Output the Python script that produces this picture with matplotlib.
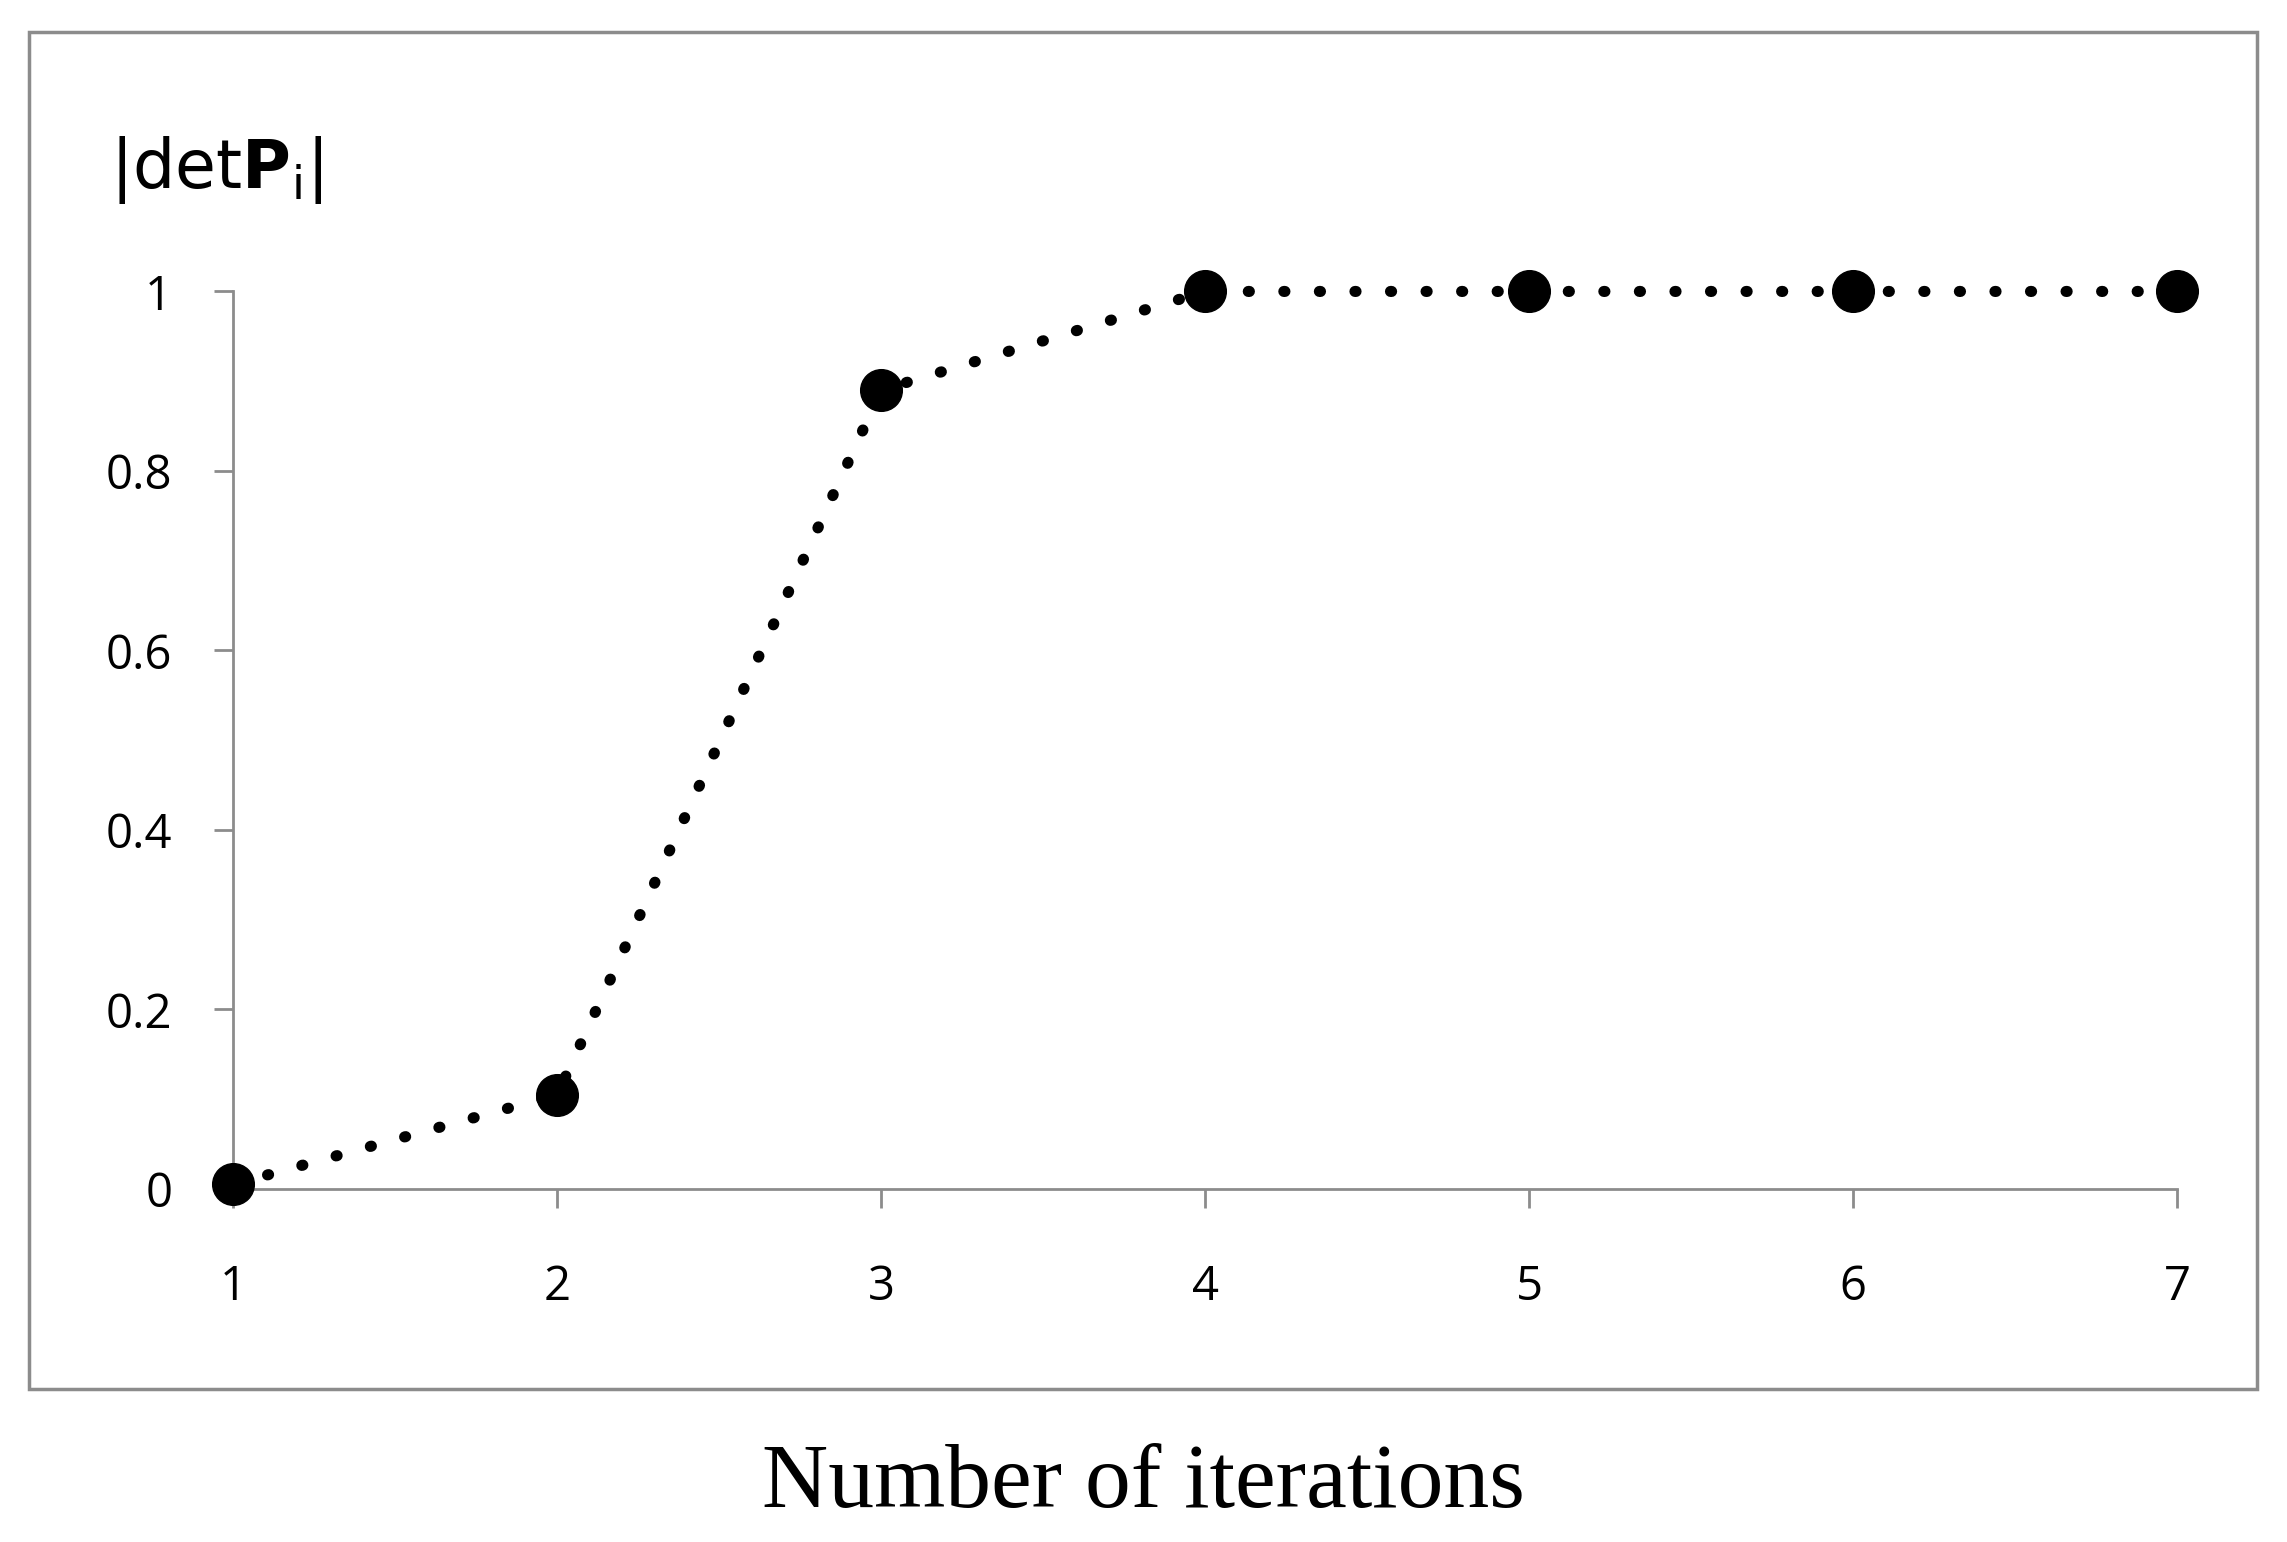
import matplotlib.pyplot as plt
from matplotlib.patches import Rectangle

iterations = [1, 2, 3, 4, 5, 6, 7]
det_p = [0.005, 0.105, 0.89, 1.0, 1.0, 1.0, 1.0]
y_ticks = [0, 0.2, 0.4, 0.6, 0.8, 1]
y_labels = ['0', '0.2', '0.4', '0.6', '0.8', '1']

fig = plt.figure(figsize=(22.87, 15.42), dpi=100)
fig.patches.append(Rectangle((0.0128, 0.099), 0.974, 0.88, transform=fig.transFigure,
                             fill=False, edgecolor='#8c8c8c', linewidth=2.5))
ax = fig.add_axes([0.102, 0.229, 0.85, 0.582])

ax.plot(iterations, det_p, color='black', linewidth=8, linestyle=(0, (0.1, 3.1)),
        dash_capstyle='round', marker='o', markersize=30, clip_on=False, zorder=3)

ax.set_xlim(1, 7)
ax.set_ylim(0, 1)
ax.set_xticks(iterations)
ax.set_yticks(y_ticks)
ax.set_yticklabels(y_labels)
for s in ['top', 'right']:
    ax.spines[s].set_visible(False)
for s in ['left', 'bottom']:
    ax.spines[s].set_color('#8c8c8c')
    ax.spines[s].set_linewidth(2)
ax.tick_params(colors='#8c8c8c', width=2, length=14, labelcolor='black',
               labelsize=34)
ax.tick_params(axis='x', pad=40)
ax.tick_params(axis='y', pad=30)
for lab in ax.get_xticklabels() + ax.get_yticklabels():
    lab.set_fontfamily('Open Sans')

fig.text(0.048, 0.89, r'$|\mathrm{det}\mathbf{P}_\mathrm{i}|$', fontsize=48, va='center')
fig.text(0.5, 0.037, 'Number of iterations', fontsize=66, ha='center', va='center',
         fontfamily='Liberation Serif')

fig.savefig('out.png')
